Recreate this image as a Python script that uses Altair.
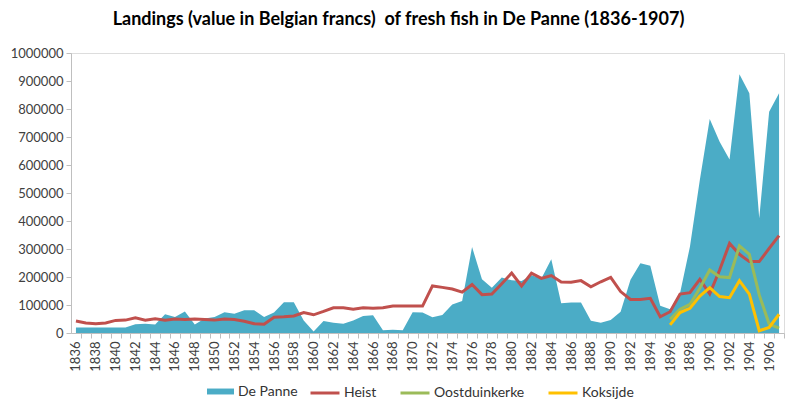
import altair as alt
import pandas as pd

years = list(range(1836, 1908))
de_panne = [20000, 20000, 20000, 20000, 20000, 20000, 31000, 33000, 30000, 67000,
            57000, 77000, 30000, 52000, 57000, 74000, 69000, 81000, 81000, 57000,
            73000, 110000, 110000, 45000, 5000, 43000, 37000, 33000, 45000, 61000,
            63000, 10000, 12000, 10000, 74000, 73000, 56000, 64000, 102000, 114000,
            307000, 192000, 162000, 198000, 188000, 186000, 206000, 195000, 263000, 106000,
            109000, 109000, 44000, 37000, 46000, 76000, 190000, 249000, 240000, 97000,
            85000, 142000, 308000, 546000, 764000, 683000, 620000, 924000, 856000, 410000,
            790000, 856000]
heist = [43000, 36000, 33000, 36000, 45000, 46000, 54000, 46000, 51000, 46000,
         50000, 48000, 50000, 48000, 46000, 50000, 48000, 42000, 33000, 31000,
         56000, 58000, 61000, 73000, 65000, 77000, 90000, 90000, 85000, 90000,
         88000, 90000, 96000, 96000, 96000, 96000, 168000, 163000, 157000, 146000,
         173000, 137000, 139000, 176000, 214000, 168000, 214000, 195000, 205000, 182000,
         181000, 187000, 165000, 183000, 199000, 148000, 120000, 120000, 124000, 58000,
         76000, 139000, 144000, 192000, 140000, 225000, 320000, 281000, 255000, 255000,
         302000, 348000]
late_years = list(range(1896, 1908))
oostduinkerke = [49000, 85000, 102000, 160000, 225000, 201000, 198000, 311000, 281000, 136000, 32000, 17000]
koksijde = [29000, 73000, 88000, 132000, 162000, 130000, 126000, 187000, 139000, 8000, 20000, 67000]
y_ticks = list(range(0, 1000001, 100000))

df_area = pd.DataFrame({"year": years, "value": de_panne, "series": "De Panne"})
df_lines = pd.concat([
    pd.DataFrame({"year": years, "value": heist, "series": "Heist", "order": 0}),
    pd.DataFrame({"year": late_years, "value": oostduinkerke, "series": "Oostduinkerke", "order": 1}),
    pd.DataFrame({"year": late_years, "value": koksijde, "series": "Koksijde", "order": 2}),
], ignore_index=True)

FONT = "Lato"
W, H = 713, 280
half = W / 72 / 2

xscale = alt.Scale(domain=[1835.5, 1907.5], nice=False, zero=False)
yscale = alt.Scale(domain=[0, 1000000], nice=False)

x_enc = alt.X("year:Q", scale=xscale, title=None,
              axis=alt.Axis(values=years, format="d",
                            labelExpr="datum.value % 2 == 0 ? datum.label : ''",
                            labelAngle=-90, tickOffset=half, labelOffset=-half,
                            labelFont=FONT, labelFontSize=13, labelColor="#404040",
                            tickColor="#BFBFBF", domainColor="#BFBFBF", tickSize=5,
                            labelPadding=3, grid=False, labelOverlap=False,
                            labelFlush=False, labelBound=False))
y_enc = alt.Y("value:Q", scale=yscale, title=None,
              axis=alt.Axis(values=y_ticks, format="d", labelFont=FONT, labelFontSize=13,
                            labelColor="#404040", tickColor="#BFBFBF", domainColor="#BFBFBF",
                            tickSize=5, labelPadding=3, grid=False))

area = alt.Chart(df_area).mark_area(interpolate="linear", opacity=1).encode(
    x=x_enc, y=y_enc,
    fill=alt.Fill("series:N", scale=alt.Scale(domain=["De Panne"], range=["#4BACC6"]),
                  legend=alt.Legend(title=None, orient="none", legendX=136, legendY=325,
                                    direction="horizontal",
                                    symbolType="M-1,-0.22H1V0.22H-1Z", symbolSize=729,
                                    symbolStrokeWidth=0, labelFont=FONT, labelFontSize=14,
                                    labelColor="#333333", labelOffset=4, padding=0)),
)

lines = alt.Chart(df_lines).mark_line(strokeWidth=3).encode(
    x=x_enc, y=y_enc,
    stroke=alt.Stroke("series:N",
                      scale=alt.Scale(domain=["Heist", "Oostduinkerke", "Koksijde"],
                                      range=["#C0504D", "#9BBB59", "#FFC000"]),
                      sort=["Heist", "Oostduinkerke", "Koksijde"],
                      legend=alt.Legend(title=None, orient="none", legendX=238, legendY=324,
                                        direction="horizontal", symbolType="stroke",
                                        symbolSize=841, symbolStrokeWidth=3,
                                        labelFont=FONT, labelFontSize=14, labelColor="#333333",
                                        labelOffset=3, columnPadding=17, padding=0)),
    detail="series:N",
    order="order:Q",
)

chart = alt.layer(area, lines).resolve_scale(fill="independent", stroke="independent").properties(
    width=W, height=H,
    title=alt.TitleParams("Landings (value in Belgian francs)\u00a0 of fresh fish in De Panne (1836-1907)",
                          font=FONT, fontSize=18, fontWeight="bold", color="#000000",
                          anchor="middle", dx=-29, offset=18),
    autosize=alt.AutoSizeParams(type="none"),
    padding={"left": 63, "top": 45, "right": 6, "bottom": 75},
).configure_view(stroke=None).configure(background="white")

chart.save("out.html", embed_options={"renderer": "svg", "actions": False})
